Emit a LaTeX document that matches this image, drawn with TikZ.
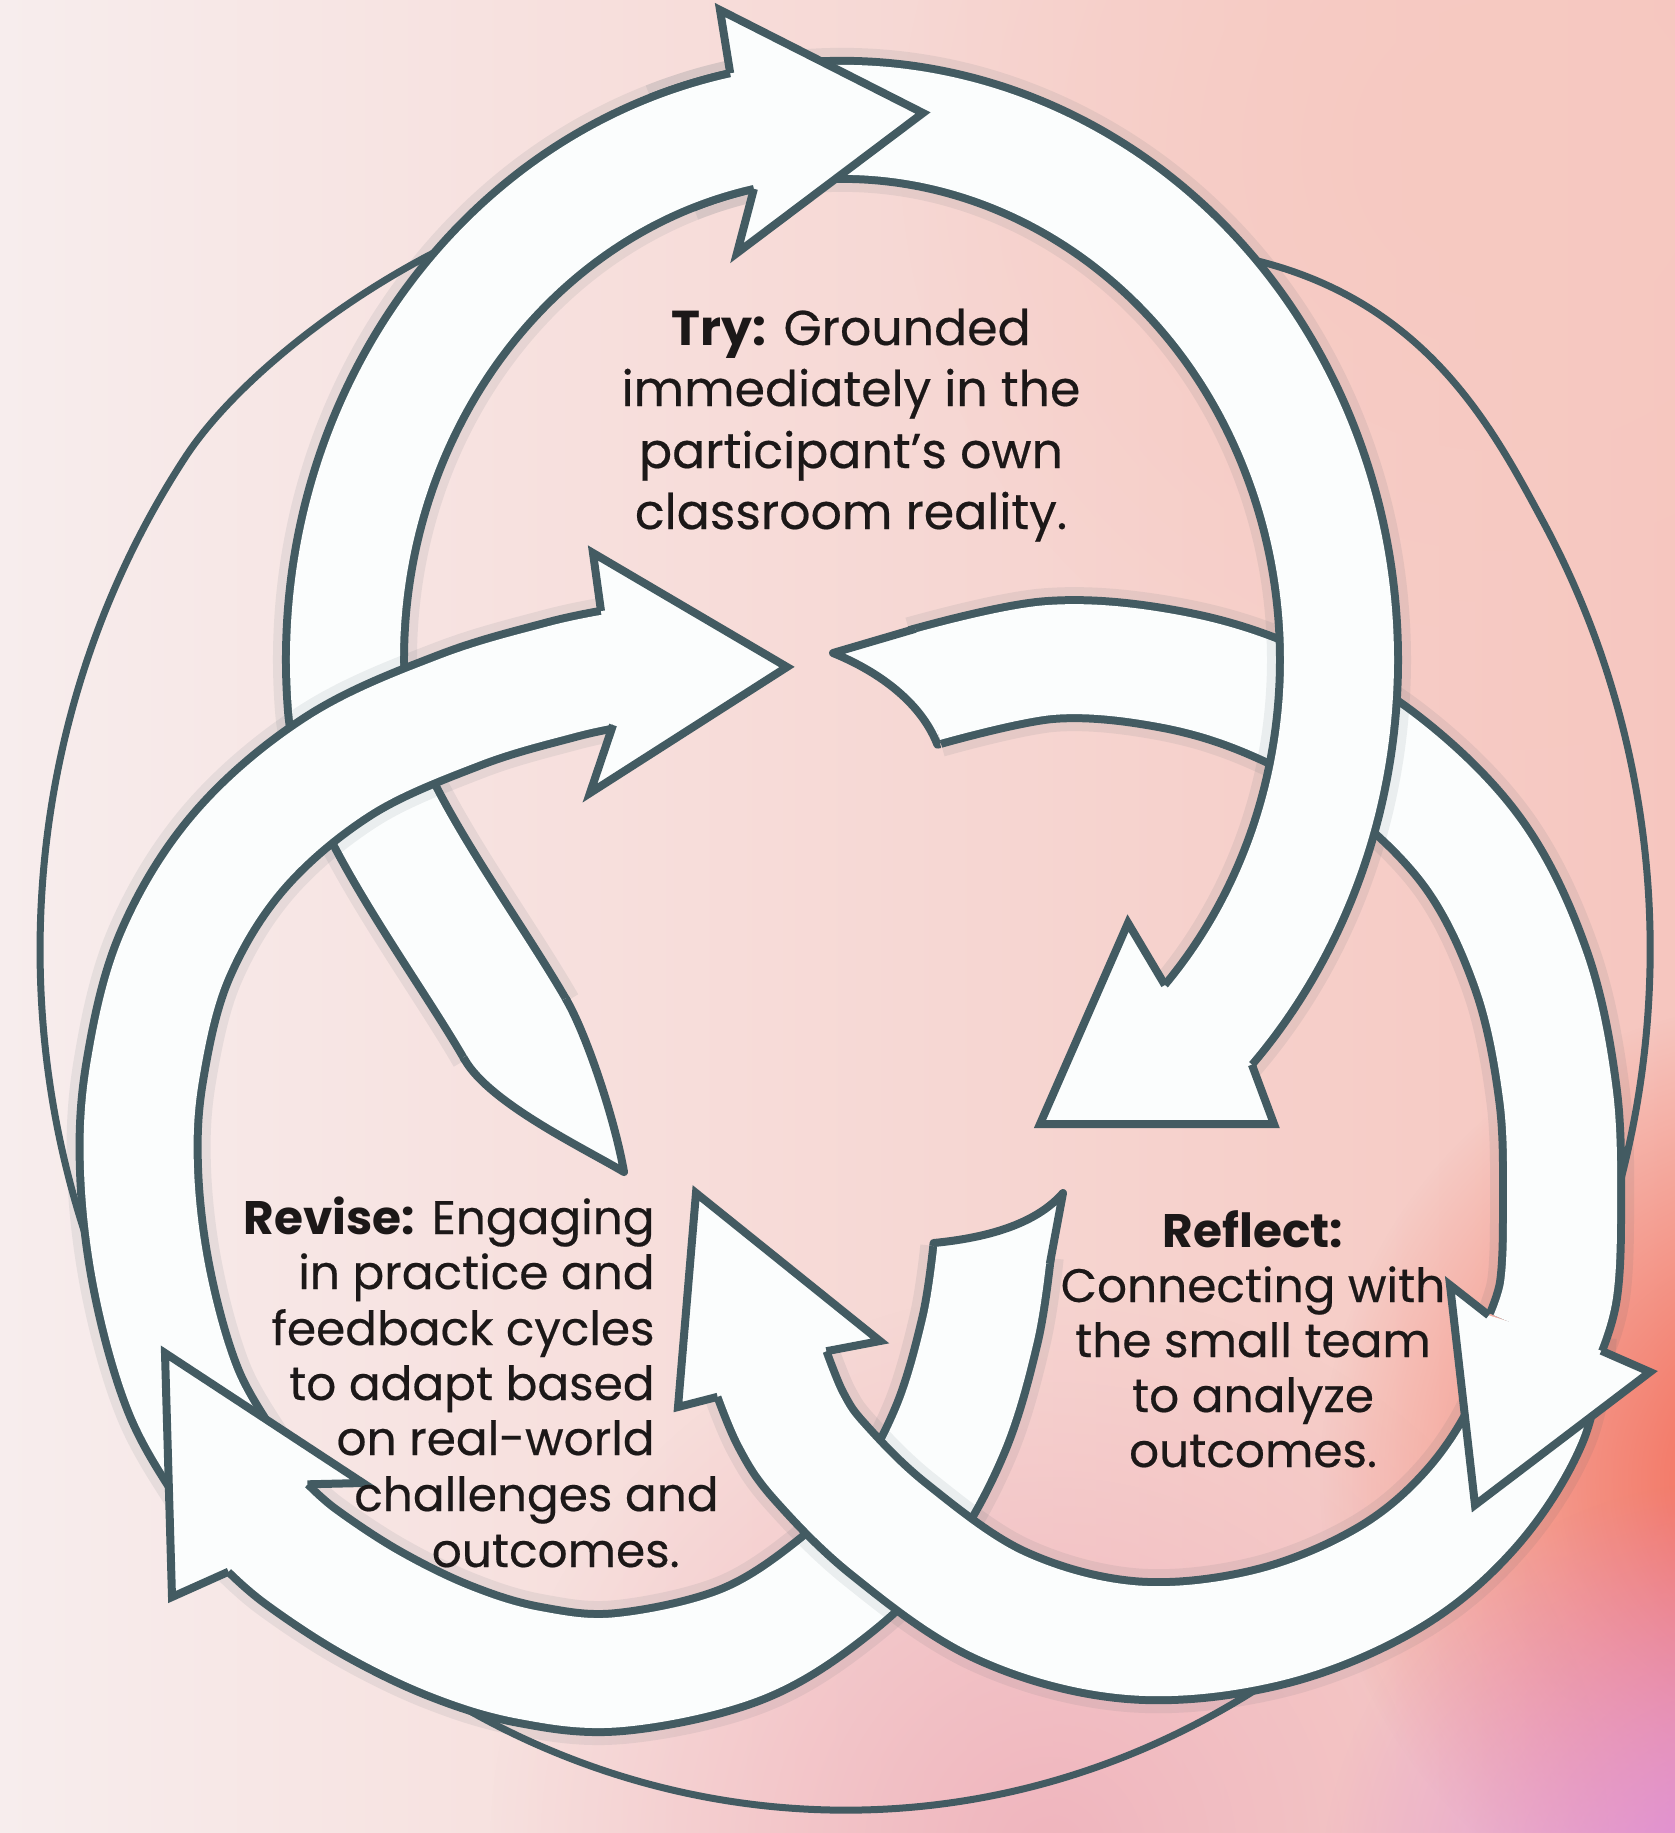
\documentclass[tikz,border=0pt]{standalone}
\usepackage{fontspec}
\setmainfont{Poppins}[UprightFeatures={FakeBold=0.4}]
\usetikzlibrary{calc,fadings}
\definecolor{edge}{HTML}{435B62}
\definecolor{bandw}{HTML}{FBFDFD}
\definecolor{ink}{HTML}{1C1818}
\definecolor{bgleft}{HTML}{F7EDED}
\definecolor{bgright}{HTML}{F6C6BF}
\definecolor{blobor}{HTML}{F2634E}
\definecolor{blobpu}{HTML}{DC8BDC}
\definecolor{blobpk}{HTML}{F0B5BE}
\definecolor{blobtop}{HTML}{F7C9C1}
\tikzfading[name=softblob, inner color=transparent!0, outer color=transparent!100]
\newcommand\arrowHead[5]{%
  \fill[bandw] (#1) -- (#2) -- (#3) -- (#4) -- (#5) -- cycle;
  \draw[headline] (#1) -- (#2) -- (#3) -- (#4) -- (#5);}
\begin{document}
\begin{tikzpicture}[x=0.5pt,y=0.5pt,
  band/.style={draw=bandw,line width=55pt,
    preaction={draw=edge,opacity=0.09,line width=72pt},
    preaction={draw=edge,line width=63pt}},
  headline/.style={draw=edge,line width=4pt,line join=miter,miter limit=20},
  tailline/.style={draw=edge,line width=4pt,line join=round},
  thinline/.style={draw=edge,line width=3.5pt},
  lbl/.style={text=ink,inner sep=0pt,font=\fontsize{23.5}{28}\selectfont},
  trylbl/.style={text=ink,inner sep=0pt,font=\fontsize{24.5}{30}\selectfont},
]
\useasboundingbox (0,0) rectangle (1675,-1833);
% background
\shade[left color=bgleft,right color=bgright] (0,0) rectangle (1675,-1833);
\fill[blobtop,path fading=softblob] (1500,-150) circle[radius=300pt];
\fill[blobpk,path fading=softblob] (1050,-1850) circle[radius=280pt];
\fill[blobor,path fading=softblob] (1800,-1480) circle[radius=240pt];
\fill[blobpu,path fading=softblob] (1740,-1900) circle[radius=210pt];

% thin outer line (its ends run under the top ring)
\draw[thinline] (1230,-255) .. controls (1420,-290) and (1490,-423.2) .. (1542.2,-520)
  arc[start angle=-330,end angle=-575,x radius=402.5pt,y radius=430pt]
  .. controls (240.4,-373.1) and (380,-265) .. (520,-215);

% L2 band (Revise ring, lower part) with tail
\draw[band] plot[smooth,tension=0.6] coordinates {(992,-1252) (980,-1330) (950,-1430) (900,-1520) (830,-1590) (740,-1645) (620,-1672) (530,-1665) (450,-1641) (370,-1602) (300,-1556) (265,-1525)};
\fill[bandw] (1049.8,-1264) -- (1063,-1193) .. controls (1035,-1225) and (985,-1238) .. (933.7,-1243) -- (933.2,-1246) -- cycle;
\draw[tailline] (1049.8,-1264) -- (1063,-1193) .. controls (1035,-1225) and (985,-1238) .. (933.7,-1243) -- (933.2,-1246);

% R2 band (Reflect ring, lower part)
\draw[band] plot[smooth,tension=0.6] coordinates {(1545,-1333) (1528,-1420) (1470,-1510) (1385,-1580) (1265,-1628) (1130,-1640) (1000,-1605) (890,-1530) (820,-1462) (791,-1420) (770.5,-1370)};
\arrowHead{826.4,-1351.2}{880,-1341}{696,-1193}{678,-1407}{717.6,-1396.8}

% R1 band (Reflect ring, upper part) with tail
\draw[band] plot[smooth,tension=0.6] coordinates {(925,-687) (1050,-660) (1169,-669) (1274,-701) (1379,-760) (1473,-853) (1531,-970) (1558,-1095) (1562,-1210) (1558.5,-1290) (1544,-1337)};
\fill[bandw] (915.4,-628.8) -- (833,-653) .. controls (875,-670) and (920,-700) .. (937.4,-744.6) -- (940.3,-744) -- cycle;
\draw[tailline] (915.4,-628.8) -- (833,-653) .. controls (875,-670) and (920,-700) .. (937.4,-744.6) -- (940.3,-744);
\arrowHead{1488.7,-1315.3}{1450,-1285}{1475,-1505}{1650,-1372}{1601.3,-1350.7}

% T ring
\coordinate (CT) at (842,-660);
\draw[band] ($(CT)+(-250:248.5pt and 270pt)$) arc[start angle=-250,end angle=-403,x radius=248.5pt,y radius=270pt];
\arrowHead{1164.9,-985.0}{1128,-923}{1040,-1124}{1274,-1124}{1251.9,-1064.7}
\draw[band] (516,-1030.5) .. controls (461,-935.2) and (354.1,-796.8) .. ($(CT)+(-175:248.5pt and 270pt)$) arc[start angle=-175,end angle=-258.9,x radius=248.5pt,y radius=270pt];
\fill[bandw] (565.6,-998.4) -- (463.4,-1057.4) -- (464.9,-1060) .. controls (490,-1103) and (581.5,-1147) .. (624,-1172)
  .. controls (615,-1120) and (587,-1036) .. (567.1,-1001) -- cycle;
\draw[tailline] (463.4,-1057.4) -- (464.9,-1060) .. controls (490,-1103) and (581.5,-1147) .. (624,-1172)
  .. controls (615,-1120) and (587,-1036) .. (567.1,-1001) -- (565.6,-998.4);
\arrowHead{730.2,-73.2}{720,-10}{923,-113}{737,-253}{753.9,-188.8}

% L1 band (Revise ring, upper part)
\draw[band] plot[smooth,tension=0.6] coordinates {(255,-1508) (228,-1470) (183,-1390) (152,-1280) (139,-1169) (145,-1070) (175,-955) (240,-850) (340,-765) (460,-710) (560,-680) (611,-669)};
\arrowHead{601,-611}{593,-553}{787,-667}{590,-793}{613,-725}
\arrowHead{307.5,-1484.3}{363,-1483}{165,-1353}{172,-1597}{228.5,-1571.7}

% texts
\node[trylbl,anchor=base] (try1) at (851,-345) {\textbf{Try:} Grounded};
\node[trylbl,anchor=base] (try2) at (851,-406) {immediately in the};
\node[trylbl,anchor=base] (try3) at (851,-468) {participant’s own};
\node[trylbl,anchor=base] (try4) at (851,-529) {classroom reality.};

\node[lbl,anchor=base] (ref1) at (1253,-1247) {\textbf{Reflect:}};
\node[lbl,anchor=base] (ref2) at (1253,-1302) {Connecting with};
\node[lbl,anchor=base] (ref3) at (1253,-1357) {the small team};
\node[lbl,anchor=base] (ref4) at (1253,-1412) {to analyze};
\node[lbl,anchor=base] (ref5) at (1253,-1467) {outcomes.};

\node[lbl,anchor=base east] (rev1) at (655,-1234) {\textbf{Revise:} Engaging};
\node[lbl,anchor=base east] (rev2) at (655,-1289) {in practice and};
\node[lbl,anchor=base east] (rev3) at (655,-1345) {feedback cycles};
\node[lbl,anchor=base east] (rev4) at (655,-1400) {to adapt based};
\node[lbl,anchor=base east] (rev5) at (655,-1455) {on real-world};
\node[lbl,anchor=base east] (rev6) at (719,-1511) {challenges and};
\node[lbl,anchor=base east] (rev7) at (680,-1567) {outcomes.};
\end{tikzpicture}
\end{document}
